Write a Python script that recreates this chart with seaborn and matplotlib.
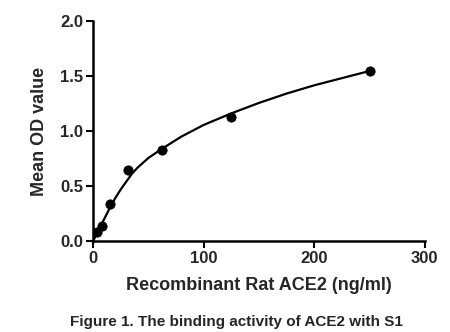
import matplotlib
matplotlib.use("Agg")
import matplotlib.pyplot as plt
import seaborn as sns
import pandas as pd

# measured points
conc = [3.9, 7.8, 15.6, 31.25, 62.5, 125, 250]
od = [0.08, 0.14, 0.335, 0.645, 0.825, 1.125, 1.545]

# fitted curve
curve_x = [0, 2, 5, 10, 15, 20, 25, 30, 35, 40, 50, 62.5, 80, 100, 125, 150, 175, 200, 225, 250]
curve_y = [0.0, 0.04, 0.10, 0.20, 0.30, 0.39, 0.47, 0.54, 0.61, 0.665, 0.755, 0.84, 0.95, 1.055, 1.16, 1.255, 1.34, 1.415, 1.48, 1.545]

x_ticks = [0, 100, 200, 300]
y_ticks = [0.0, 0.5, 1.0, 1.5, 2.0]

sns.set_style("ticks")
plt.rcParams['font.family'] = ['Liberation Sans', 'DejaVu Sans']

fig = plt.figure(figsize=(4.5, 3.32), dpi=100)
ax = fig.add_axes([0.207, 0.274, 0.737, 0.663])

pts = pd.DataFrame({"x": conc, "y": od})
cur = pd.DataFrame({"x": curve_x, "y": curve_y})
sns.lineplot(data=cur, x="x", y="y", ax=ax, color="black", linewidth=1.6, sort=True)
sns.scatterplot(data=pts, x="x", y="y", ax=ax, color="black", s=45, edgecolor="black", zorder=5)

ax.set_xlim(0, 300)
ax.set_ylim(0, 2.0)
ax.set_xticks(x_ticks)
ax.set_yticks(y_ticks)
ax.set_xticklabels([str(t) for t in x_ticks], fontsize=12, fontweight="bold")
ax.set_yticklabels([f"{t:.1f}" for t in y_ticks], fontsize=12, fontweight="bold")
ax.set_xlabel("Recombinant Rat ACE2 (ng/ml)", fontsize=13, fontweight="bold", labelpad=8)
ax.set_ylabel("Mean OD value", fontsize=13, fontweight="bold", labelpad=9)

for s in ["left", "bottom"]:
    ax.spines[s].set_linewidth(1.8)
    ax.spines[s].set_color("black")
sns.despine(ax=ax)
ax.tick_params(axis="both", width=1.5, length=5, color="black", direction="out", pad=2)

fig.text(0.525, 0.03, "Figure 1. The binding activity of ACE2 with S1",
         ha="center", va="center", fontsize=11, fontweight="bold")

fig.savefig("out.png", dpi=100, facecolor="white")
